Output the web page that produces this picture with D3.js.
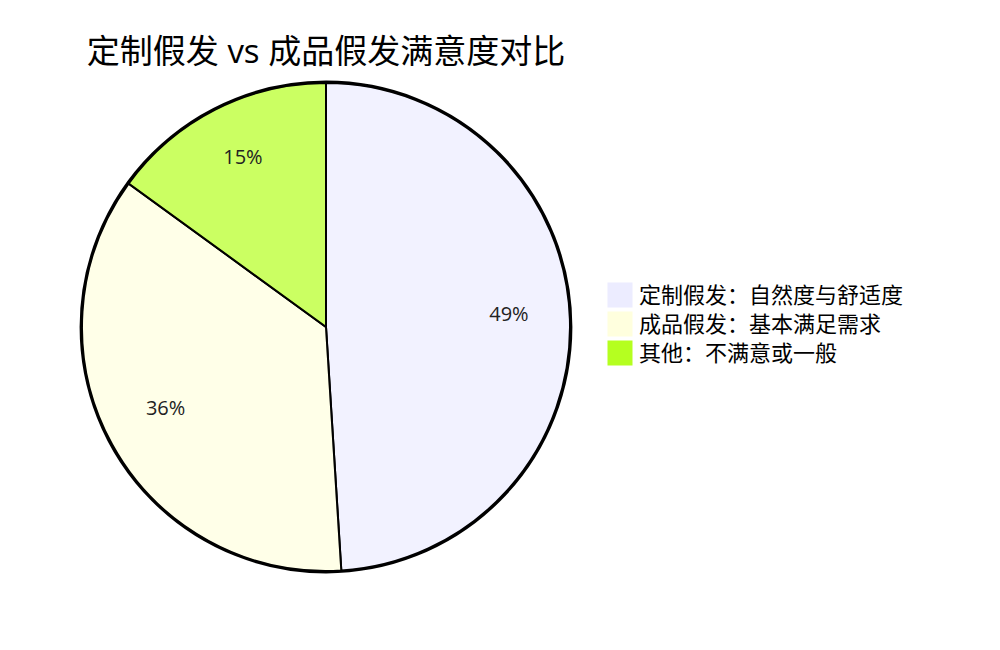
<!DOCTYPE html>
<html>
<head>
<meta charset="utf-8">
<script src="https://cdn.jsdelivr.net/npm/d3@7"></script>
<style>
  body { margin: 0; background: #fff; }
  svg text { font-family: "Open Sans", "Noto Sans CJK SC", sans-serif; }
</style>
</head>
<body>
<div id="chart"></div>
<script>
const title = '定制假发 vs 成品假发满意度对比'
const labels = ['定制假发：自然度与舒适度', '成品假发：基本满足需求', '其他：不满意或一般']
const values = [49, 36, 15]
const colors = ['#ECECFF', '#ffffde', '#b5ff20']

const width = 1000, height = 650
const cx = 326, cy = 327, radius = 244

const svg = d3.select('#chart')
  .append('svg')
    .attr('width', width)
    .attr('height', height)

// title
svg.append('text')
  .attr('x', cx)
  .attr('y', 63)
  .attr('text-anchor', 'middle')
  .style('font-size', '33px')
  .style('fill', '#000')
  .text(title)

const g = svg.append('g')
  .attr('transform', 'translate(' + cx + ',' + cy + ')')

const pie = d3.pie().sort(null).value(d => d)
const arcs = pie(values)
const total = d3.sum(values)

const arc = d3.arc().innerRadius(0).outerRadius(radius)
const labelArc = d3.arc().innerRadius(radius * 0.75).outerRadius(radius * 0.75)

// outer circle
g.append('circle')
  .attr('r', radius + 1)
  .attr('fill', 'none')
  .attr('stroke', '#000')
  .attr('stroke-width', 2.8)

g.selectAll('path.slice')
  .data(arcs)
  .enter()
  .append('path')
    .attr('class', 'slice')
    .attr('d', arc)
    .attr('fill', (d, i) => colors[i])
    .attr('fill-opacity', 0.7)
    .attr('stroke', '#000')
    .attr('stroke-width', 2)

g.selectAll('text.pct')
  .data(arcs)
  .enter()
  .append('text')
    .attr('class', 'pct')
    .attr('transform', d => 'translate(' + labelArc.centroid(d) + ')')
    .attr('text-anchor', 'middle')
    .style('font-size', '20px')
    .style('fill', '#222')
    .text(d => (d.data / total * 100).toFixed(0) + '%')

// legend
const legendY = d3.scaleBand()
  .domain(labels)
  .range([283, 283 + 29 * labels.length])

const legend = svg.selectAll('g.legend')
  .data(labels)
  .enter()
  .append('g')
    .attr('class', 'legend')
    .attr('transform', d => 'translate(608,' + legendY(d) + ')')

legend.append('rect')
  .attr('width', 24)
  .attr('height', 24)
  .attr('fill', (d, i) => colors[i])
  .attr('stroke', (d, i) => colors[i])

legend.append('text')
  .attr('x', 31)
  .attr('y', 12)
  .attr('dy', '0.35em')
  .style('font-size', '22px')
  .style('fill', '#000')
  .text(d => d)
</script>
</body>
</html>
